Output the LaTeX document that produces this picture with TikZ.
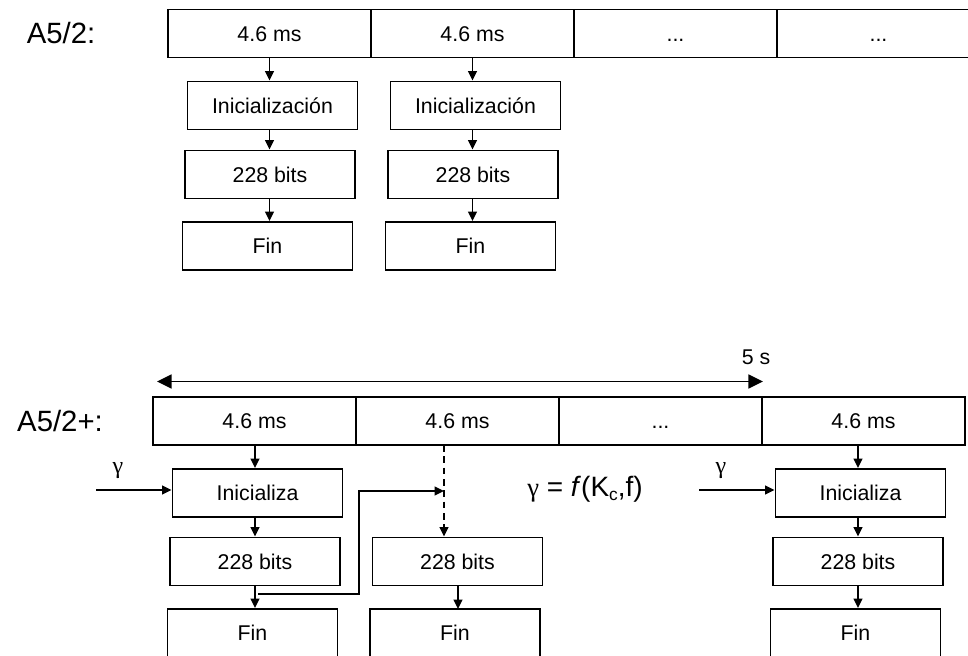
\documentclass[tikz,border=0pt]{standalone}
\usepackage{fontspec}
\setmainfont{Liberation Sans}
\newfontfamily\greekfont{Liberation Serif}
\usetikzlibrary{arrows.meta,calc}

\tikzset{
  cell/.style={draw, line width=1.4pt, minimum width=152.25pt, minimum height=36pt,
    inner sep=0pt, text height=11.5pt, text depth=0pt, font=\fontsize{16}{18}\selectfont},
  box/.style={draw, line width=1.4pt, minimum width=127.5pt, minimum height=36pt,
    inner sep=0pt, text height=11.5pt, text depth=0pt, font=\fontsize{16}{18}\selectfont},
  arr/.style={line width=1.2pt, -{Triangle[length=7pt,width=6.5pt]}},
  dasharr/.style={arr, dash pattern=on 5pt off 3.5pt},
  span/.style={line width=1.3pt, {Triangle[length=11pt,width=10.5pt]}-{Triangle[length=11pt,width=10.5pt]}},
  lbl/.style={font=\fontsize{22}{24}\selectfont},
  glbl/.style={font=\greekfont\fontsize{18}{20}\selectfont}
}

\begin{document}
\begin{tikzpicture}[x=0.75pt, y=-0.75pt]
\useasboundingbox (0,0) rectangle (968,656);
\clip (0,0) rectangle (968,656);

% ---------- A5/2 ----------
\node[lbl] (lA) at (61,33) {A5/2:};
\node[cell] (a1) at (269.5,33.5) {4.6 ms};
\node[cell] (a2) at (472.5,33.5) {4.6 ms};
\node[cell] (a3) at (675.5,33.5) {...};
\node[cell] (a4) at (878.5,33.5) {...};

\node[box] (i1) at (272.5,105.5) {Inicialización};
\node[box] (b1) at (270,174.5) {228 bits};
\node[box] (f1) at (267.5,246) {Fin};
\node[box] (i2) at (475.5,105.5) {Inicialización};
\node[box] (b2) at (473,174.5) {228 bits};
\node[box] (f2) at (470.5,246) {Fin};

\draw[arr] (a1.south) -- (a1.south |- i1.north);
\draw[arr] (a1.south |- i1.south) -- (a1.south |- b1.north);
\draw[arr] (a1.south |- b1.south) -- (a1.south |- f1.north);
\draw[arr] (a2.south) -- (a2.south |- i2.north);
\draw[arr] (a2.south |- i2.south) -- (a2.south |- b2.north);
\draw[arr] (a2.south |- b2.south) -- (a2.south |- f2.north);

% ---------- A5/2+ ----------
\coordinate (sL) at (157,381.5);
\coordinate (sR) at (763,381.5);
\draw[span] (sL) -- (sR);
\node[font=\fontsize{16}{18}\selectfont] (five) at (756,357) {5 s};

\node[lbl] (lB) at (60,421) {A5/2+:};
\node[cell] (c1) at (254.5,421) {4.6 ms};
\node[cell] (c2) at (457.5,421) {4.6 ms};
\node[cell] (c3) at (660.5,421) {...};
\node[cell] (c4) at (863.5,421) {4.6 ms};

\node[box] (i5) at (257.5,493) {Inicializa};
\node[box] (b5) at (255,561.5) {228 bits};
\node[box] (f5) at (252.5,633) {Fin};

\node[box] (b6) at (457.5,561.5) {228 bits};
\node[box] (f6) at (455,633) {Fin};

\node[box] (i8) at (860.5,493) {Inicializa};
\node[box] (b8) at (858,561.5) {228 bits};
\node[box] (f8) at (855.5,633) {Fin};

% column 1
\coordinate (x1) at (255,445);
\draw[arr] (x1) -- (x1 |- i5.north);
\draw[arr] (x1 |- i5.south) -- (x1 |- b5.north);
\draw[arr] (x1 |- b5.south) -- (x1 |- f5.north);

% column 2: dashed start, feedback from column 1
\coordinate (x2) at (444,445);
\coordinate (join) at (444,491);
\draw[dasharr] (x2) -- (x2 |- b6.north);
\draw[arr] (458,586) -- (458,609);
\coordinate (fb) at (258,594);
\coordinate (turn) at (359,491);
\draw[arr] (fb) -| (turn) -- (join);

% column 4
\coordinate (x4) at (858,445);
\draw[arr] (x4) -- (x4 |- i8.north);
\draw[arr] (x4 |- i8.south) -- (x4 |- b8.north);
\draw[arr] (x4 |- b8.south) -- (x4 |- f8.north);

% key inputs
\coordinate (g1) at (96,490);
\coordinate (g4) at (699,490);
\draw[arr] (g1) -- (g1 -| i5.west);
\draw[arr] (g4) -- (g4 -| i8.west);
\node[glbl] (gl1) at (118,471) {γ};
\node[glbl] (gl4) at (721,471) {γ};

\node[font=\fontsize{21}{24}\selectfont] (eq) at (585,489)
  {{\greekfont\fontsize{20}{22}\selectfont γ} = \textit{f}(K\raisebox{-0.3ex}{\fontsize{13}{14}\selectfont c},f)};

\end{tikzpicture}
\end{document}
